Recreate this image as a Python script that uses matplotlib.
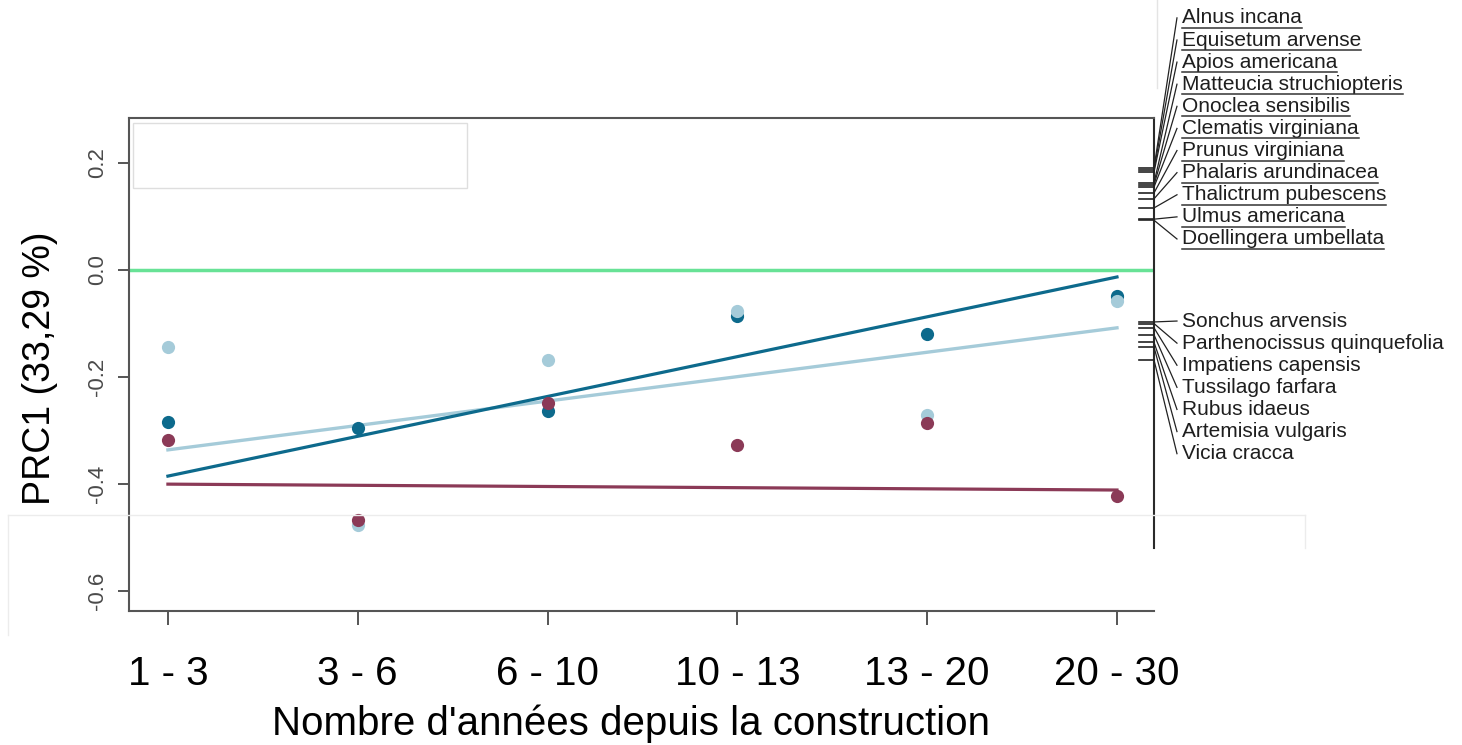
import numpy as np
import matplotlib
matplotlib.use('Agg')
import matplotlib.pyplot as plt
from matplotlib.lines import Line2D
from matplotlib.patches import Rectangle
from matplotlib.transforms import IdentityTransform, blended_transform_factory

plt.rcParams['font.family'] = ['Liberation Sans', 'DejaVu Sans']

# categories (years since construction)
categories = ['1 - 3', '3 - 6', '6 - 10', '10 - 13', '13 - 20', '20 - 30']

# PRC1 scores per treatment
dark_pts = [-0.284, -0.295, -0.264, -0.086, -0.120, -0.049]
light_pts = [-0.144, -0.477, -0.168, -0.077, -0.271, -0.058]
maroon_pts = [-0.318, -0.467, -0.249, -0.327, -0.286, -0.422]

# trend lines (value at first and last category)
dark_trend = [-0.385, -0.013]
light_trend = [-0.336, -0.108]
maroon_trend = [-0.400, -0.411]

# species scores
species_top = ['Alnus incana', 'Equisetum arvense', 'Apios americana',
               'Matteucia struchiopteris', 'Onoclea sensibilis', 'Clematis virginiana',
               'Prunus virginiana', 'Phalaris arundinacea', 'Thalictrum pubescens',
               'Ulmus americana', 'Doellingera umbellata']
scores_top = [0.191, 0.187, 0.183, 0.163, 0.159, 0.155, 0.144, 0.133, 0.116, 0.095, 0.093]

species_bottom = ['Sonchus arvensis', 'Parthenocissus quinquefolia', 'Impatiens capensis',
                  'Tussilago farfara', 'Rubus idaeus', 'Artemisia vulgaris', 'Vicia cracca']
scores_bottom = [-0.097, -0.100, -0.108, -0.121, -0.135, -0.144, -0.168]

c_dark = '#0d6a8c'
c_light = '#a5cbd9'
c_maroon = '#8b3a57'
c_green = '#68e296'
c_axis = '#555555'

W, H = 1462, 745
fig = plt.figure(figsize=(W / 100, H / 100), dpi=100)
ax = fig.add_axes([129 / W, 1 - 611 / H, (1154 - 129) / W, (611 - 118) / H])

x = np.arange(len(categories))
xmin, xmax = -0.205, 5.195
ax.set_xlim(xmin, xmax)
ax.set_ylim(-0.637, 0.284)

ax.axhline(0, color=c_green, lw=2.5, zorder=2)

ends = [x[0], x[-1]]
ax.plot(ends, light_trend, color=c_light, lw=2.4, zorder=3)
ax.plot(ends, dark_trend, color=c_dark, lw=2.3, zorder=3)
ax.plot(ends, maroon_trend, color=c_maroon, lw=2.3, zorder=3)

ax.plot(x, dark_pts, 'o', color=c_dark, ms=9.5, mec='none', zorder=4)
ax.plot(x, light_pts, 'o', color=c_light, ms=9.5, mec='none', zorder=5)
ax.plot(x, maroon_pts, 'o', color=c_maroon, ms=9.5, mec='none', zorder=6)

# empty legend box
ax.add_patch(Rectangle((0.004, 0.858), 0.326, 0.132, transform=ax.transAxes,
                       facecolor='white', edgecolor='#dedede', lw=1, zorder=1))

# axes styling
for s in ['left', 'bottom', 'top', 'right']:
    ax.spines[s].set_color(c_axis)
    ax.spines[s].set_linewidth(1.5)
ax.spines['right'].set_color('#2a2a2a')
ax.spines['right'].set_bounds(-0.52, 0.284)

ax.set_xticks(x)
ax.set_xticklabels([])
ax.tick_params(axis='x', length=10, width=1.4, color=c_axis)
ax.set_yticks([-0.6, -0.4, -0.2, 0.0, 0.2])
ax.set_yticklabels(['-0.6', '-0.4', '-0.2', '0.0', '0.2'])
ax.tick_params(axis='y', length=8, width=1.4, color=c_axis, labelcolor='#4a4a4a',
               labelsize=16, labelrotation=90, pad=7)
for lab in ax.get_yticklabels():
    lab.set_va('center')

# category labels and axis titles
xfig = blended_transform_factory(ax.transData, fig.transFigure)
for xi, cat in zip(x, categories):
    ax.text(xi, 1 - 685 / H, cat, transform=xfig, fontsize=29, ha='center',
            va='baseline', color='black', clip_on=False)
fig.text(631 / W, 1 - 735 / H, "Nombre d'années depuis la construction",
         fontsize=29, ha='center', va='baseline')
fig.text(40 / W, 1 - 368 / H, 'PRC1 (33,29 %)', fontsize=27, rotation=90,
         ha='center', va='center')

# species axis
tick_x0 = xmax - 0.08
conn_x = xmax + 0.121
text_x = xmax + 0.147
step = 0.0413
ytop = 0.471 - step * np.arange(len(species_top))
ybot = -0.0953 - step * np.arange(len(species_bottom))

top_texts = []
for name, sc, yl in zip(species_top, scores_top, ytop):
    ax.plot([tick_x0, xmax], [sc, sc], color='#222222', lw=1.2, clip_on=False, zorder=5)
    ax.plot([xmax, conn_x], [sc, yl], color='#222222', lw=0.9, clip_on=False, zorder=5)
    t = ax.text(text_x, yl, name, fontsize=15, ha='left', va='center', color='#1e1e1e',
                clip_on=False)
    top_texts.append(t)
for name, sc, yl in zip(species_bottom, scores_bottom, ybot):
    ax.plot([tick_x0, xmax], [sc, sc], color='#222222', lw=1.2, clip_on=False, zorder=5)
    ax.plot([xmax, conn_x], [sc, yl], color='#222222', lw=0.9, clip_on=False, zorder=5)
    ax.text(text_x, yl, name, fontsize=15, ha='left', va='center', color='#1e1e1e',
            clip_on=False)

# faint slide artefacts
fig.add_artist(Line2D([8 / W, 1305 / W], [1 - 515 / H, 1 - 515 / H], color='#ececec', lw=1))
fig.add_artist(Line2D([1305 / W, 1305 / W], [1 - 515 / H, 1 - 548 / H], color='#ececec', lw=1))
fig.add_artist(Line2D([8 / W, 8 / W], [1 - 515 / H, 1 - 635 / H], color='#ececec', lw=1))
fig.add_artist(Line2D([1157 / W, 1157 / W], [1, 1 - 88 / H], color='#e4e4e4', lw=1))

# underline the upper species labels
fig.canvas.draw()
renderer = fig.canvas.get_renderer()
for t in top_texts:
    bb = t.get_window_extent(renderer)
    yc = (bb.y0 + bb.y1) / 2 - 10
    fig.add_artist(Line2D([bb.x0, bb.x1], [yc, yc], color='#333333', lw=1.1,
                          transform=IdentityTransform()))

fig.savefig('out.png', dpi=100)
